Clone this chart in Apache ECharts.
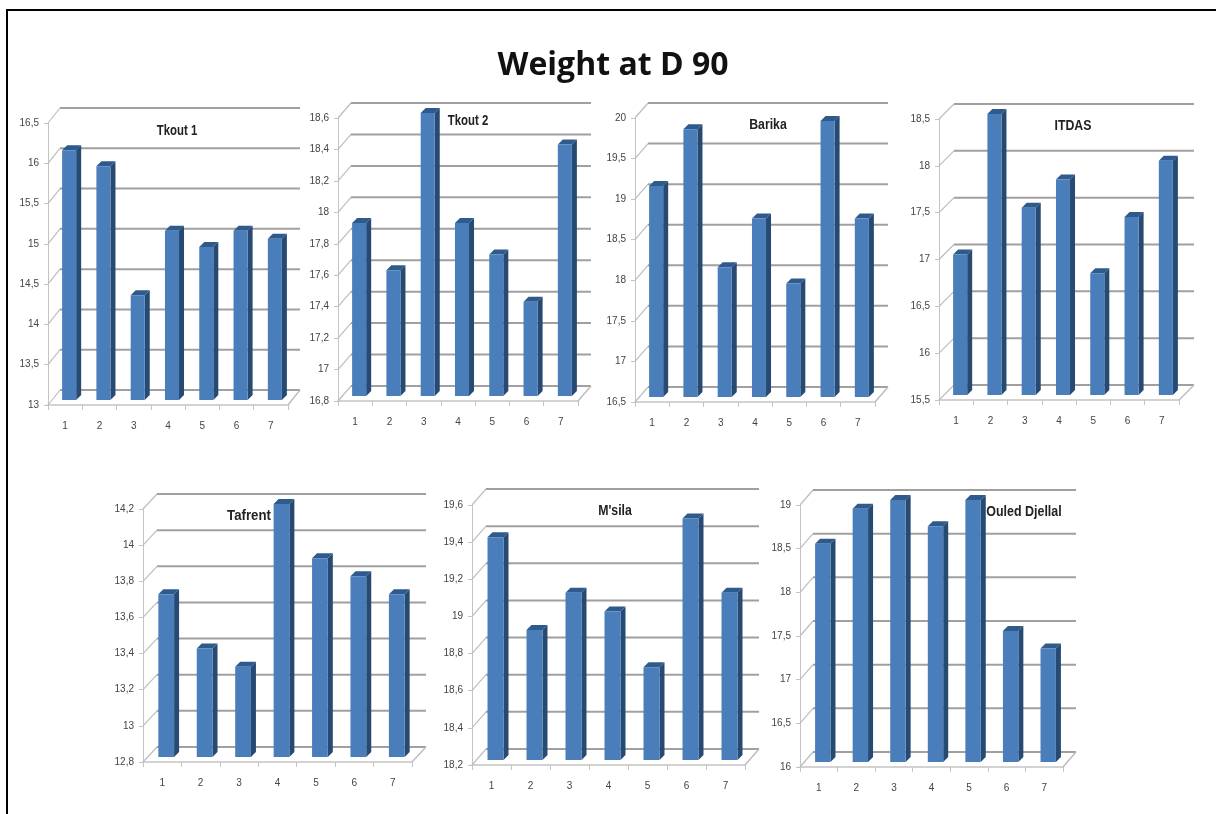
<!DOCTYPE html>
<html><head><meta charset="utf-8">
<style>html,body{margin:0;background:#fff;overflow:hidden}#c{width:1216px;height:814px;filter:blur(0.5px)}
#f{position:absolute;left:6px;top:9px;width:1210px;height:805px;border-left:2px solid #000;border-top:2px solid #000;box-sizing:border-box}</style>
<script src="https://cdn.jsdelivr.net/npm/echarts@6/dist/echarts.min.js"></script>
</head><body><div id="c"></div><div id="f"></div>
<script>
const categories = ['1','2','3','4','5','6','7'];
const tkout1 = [16.1,15.9,14.3,15.1,14.9,15.1,15.0];
const tkout2 = [17.9,17.6,18.6,17.9,17.7,17.4,18.4];
const barika = [19.1,19.8,18.1,18.7,17.9,19.9,18.7];
const itdas = [17.0,18.5,17.5,17.8,16.8,17.4,18.0];
const tafrent = [13.7,13.4,13.3,14.2,13.9,13.8,13.7];
const msila = [19.4,18.9,19.1,19.0,18.7,19.5,19.1];
const ouled = [18.5,18.9,19.0,18.7,19.0,17.5,17.3];
const ticks1 = [13,13.5,14,14.5,15,15.5,16,16.5];
const ticks2 = [16.8,17,17.2,17.4,17.6,17.8,18,18.2,18.4,18.6];
const ticks3 = [16.5,17,17.5,18,18.5,19,19.5,20];
const ticks4 = [15.5,16,16.5,17,17.5,18,18.5];
const ticks5 = [12.8,13,13.2,13.4,13.6,13.8,14,14.2];
const ticks6 = [18.2,18.4,18.6,18.8,19,19.2,19.4,19.6];
const ticks7 = [16,16.5,17,17.5,18,18.5,19];

const panels = [
 {name:'Tkout 1', v:tkout1, t:ticks1, step:.5, box:[48,123,288,405], tp:[177,131], sx:.76, dx:12, dy:-15},
 {name:'Tkout 2', v:tkout2, t:ticks2, step:.2, box:[338,118,578,401], tp:[468,121], sx:.76, dx:13, dy:-15},
 {name:'Barika', v:barika, t:ticks3, step:.5, box:[635,118,875,402], tp:[768,125], sx:.82, dx:13, dy:-15},
 {name:'ITDAS', v:itdas, t:ticks4, step:.5, box:[939,119,1179,400], tp:[1073,126], sx:.82, dx:15, dy:-15},
 {name:'Tafrent', v:tafrent, t:ticks5, step:.2, box:[143,509,412,762], tp:[249,516], sx:.88, dx:14, dy:-15},
 {name:"M'sila", v:msila, t:ticks6, step:.2, box:[472,505,745,765], tp:[615,511], sx:.82, dx:14, dy:-16},
 {name:'Ouled Djellal', v:ouled, t:ticks7, step:.5, box:[800,505,1063,767], tp:[1024,512], sx:.83, dx:13, dy:-15}
];
const axisFont = '"Liberation Sans",sans-serif';
const grid=[],xAxis=[],yAxis=[],series=[],graphic=[];
const title={text:'Weight at D 90',left:608,top:61,textAlign:'center',textVerticalAlign:'middle',
  textStyle:{fontFamily:'"Open Sans",sans-serif',fontWeight:'bold',fontSize:32,color:'#111'}};
panels.forEach((p,i)=>{
  const [l,t,r,b]=p.box;
  grid.push({left:l,top:t,width:r-l,height:b-t});
  xAxis.push({type:'category',gridIndex:i,data:categories,axisLine:{lineStyle:{color:'#c4c4c4',width:1.5}},
    axisTick:{show:true,length:5,lineStyle:{color:'#c4c4c4'}},
    axisLabel:{margin:16,fontFamily:axisFont,fontSize:10,color:'#444'}});
  yAxis.push({type:'value',gridIndex:i,min:p.t[0],max:p.t[p.t.length-1],interval:p.step,splitLine:{show:false},
    axisLine:{show:true,lineStyle:{color:'#c4c4c4'}},axisTick:{show:true,length:4,lineStyle:{color:'#c4c4c4'}},
    axisLabel:{margin:9,padding:[4,0,0,0],fontFamily:axisFont,fontSize:10,color:'#444',formatter:v=>String(+v.toFixed(1)).replace('.',',')}});
  series.push({type:'custom',xAxisIndex:i,yAxisIndex:i,silent:true,z:1,clip:false,
    data:p.t.map(v=>[0,v]),encode:{x:0,y:1},
    renderItem(params,api){
      const y=api.coord([0,api.value(1)])[1],cs=params.coordSys,x0=cs.x,x1=cs.x+cs.width;
      const kids=[
        {type:'line',shape:{x1:x0,y1:y,x2:x0+p.dx,y2:y+p.dy},style:{stroke:'#bdbdbd',lineWidth:1.2}},
        {type:'line',shape:{x1:x0+p.dx,y1:y+p.dy,x2:x1+p.dx,y2:y+p.dy},style:{stroke:'#a0a0a0',lineWidth:2}}];
      if(params.dataIndex===0) kids.push({type:'line',shape:{x1:x1+p.dx,y1:y+p.dy,x2:x1,y2:y},style:{stroke:'#bdbdbd',lineWidth:1.5}});
      return {type:'group',children:kids};
    }});
  series.push({type:'custom',xAxisIndex:i,yAxisIndex:i,z:3,clip:false,name:p.name,
    data:p.v.map((v,k)=>[k,v]),encode:{x:0,y:1},
    renderItem(params,api){
      const top=api.coord([api.value(0),api.value(1)]),base=api.coord([api.value(0),p.t[0]]);
      const w=api.size([1,0])[0]*0.41,ox=4-w/2,oy=-5,d=5;
      const x=top[0]+ox,yt=top[1]+oy,yb=base[1]+oy;
      return {type:'group',children:[
        {type:'polygon',shape:{points:[[x+w,yt],[x+w+d,yt-d],[x+w+d,yb-d],[x+w,yb]]},style:{fill:'#274a73'}},
        {type:'polygon',shape:{points:[[x,yt],[x+d,yt-d],[x+w+d,yt-d],[x+w,yt]]},style:{fill:'#2f5a8c'}},
        {type:'rect',shape:{x:x,y:yt,width:w,height:yb-yt},style:{fill:'#4a7ebb'}}
      ]};
    }});
  graphic.push({type:'text',x:p.tp[0],y:p.tp[1],scaleX:p.sx,z:100,silent:true,
    style:{text:p.name,textAlign:'center',textVerticalAlign:'middle',fontFamily:axisFont,fontWeight:'bold',fontSize:15,fill:'#222'}});
});
const chart=echarts.init(document.getElementById('c'),null,{renderer:'canvas',width:1216,height:814});
chart.setOption({animation:false,backgroundColor:'#fff',title,grid,xAxis,yAxis,series,graphic});
</script></body></html>
